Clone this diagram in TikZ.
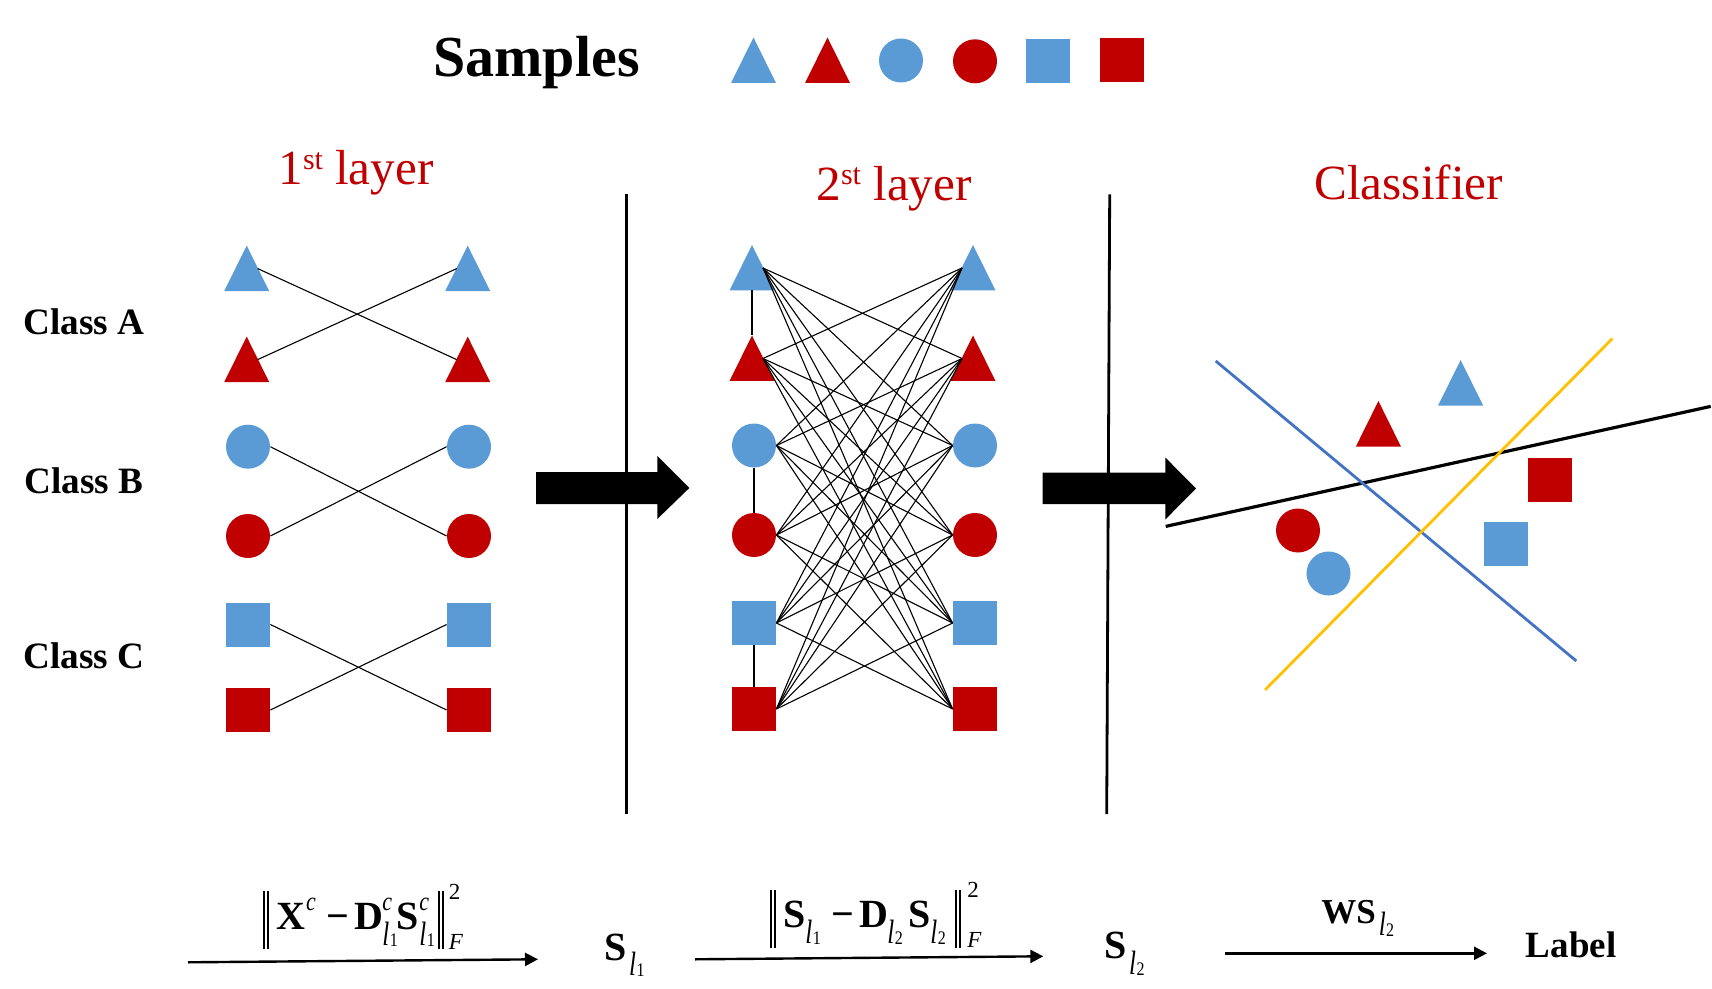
\documentclass[tikz,border=0pt]{standalone}
\usepackage{graphicx}
\usepackage{fontspec}
\setmainfont{Liberation Serif}
\usetikzlibrary{arrows.meta}
\definecolor{lblue}{HTML}{5B9BD5}
\definecolor{dred}{HTML}{C00000}
\definecolor{lineblue}{HTML}{4472C4}
\definecolor{lineyellow}{HTML}{FFC000}
\newdimen\px \px=0.5pt
\newcommand\at[2]{\rlap{\hspace{#1\px}#2}}
\newcommand\lsub[1]{\raisebox{-7.9pt}{\fontsize{12.5}{12.5}\selectfont\normalfont\scalebox{1}[1.35]{\itshape l}\hspace{0.2pt}\raisebox{-0.5pt}{\fontsize{8}{8}\selectfont\scalebox{1}[1.2]{#1}}}}
\newcommand\csup{\raisebox{9.3pt}{\fontsize{11}{11}\selectfont\normalfont\itshape\scalebox{1}[1.2]{c}}}
\newcommand\nbars[1]{\raisebox{-#1}{\rule{0.8pt}{29.3pt}\hspace{1pt}\rule{0.8pt}{29.3pt}}}
\newcommand\normtwo{\raisebox{14.7pt}{\fontsize{11.5}{11.5}\selectfont\normalfont 2}}
\newcommand\normF{\raisebox{-10pt}{\fontsize{11.5}{11.5}\selectfont\normalfont\itshape F}}
\newcommand\ordst[1]{\raisebox{#1}{\fontsize{15}{15}\selectfont st}}
\newcommand\tri[4]{% name, apex x, apex y, colour
  \fill[#4] (#2,#3) -- (#2+22.5,#3+45.5) -- (#2-22.5,#3+45.5) -- cycle;
  \coordinate (#1-e) at (#2+11,#3+23);
  \coordinate (#1-w) at (#2-11,#3+23);
  \coordinate (#1-a) at (#2,#3);
  \coordinate (#1-b) at (#2,#3+45.5);
}
\tikzset{
  x=0.5pt,y=-0.5pt,
  disc/.style={circle,fill=#1,inner sep=0pt,minimum size=22pt,draw=none},
  sq/.style={rectangle,fill=#1,inner sep=0pt,minimum size=22pt,draw=none},
  thinlink/.style={line width=0.55pt,black},
  vlink/.style={line width=0.75pt,black},
  flow/.style={line width=1.2pt,black,-{Triangle[length=6.5pt,width=6.5pt]}},
  sep/.style={line width=1.4pt},
  head/.style={anchor=base west,inner sep=0pt,text=dred,font=\fontsize{24.6}{30}\selectfont},
  cls/.style={anchor=base west,inner sep=0pt,font=\fontsize{18.6}{24}\selectfont\bfseries},
  fml/.style={anchor=base west,inner sep=0pt,font=\fontsize{20}{24}\selectfont\bfseries},
  plainbold/.style={anchor=base west,inner sep=0pt,font=\fontsize{18.5}{22}\selectfont\bfseries},
}
\begin{document}
\begin{tikzpicture}
\useasboundingbox (0,0) rectangle (1712,989);
% title and legend
\node[anchor=base west,inner sep=0pt,font=\fontsize{29}{34}\selectfont\bfseries] (samples) at (433,77) {Samples};
\tri{lgA}{753.5}{37.5}{lblue}
\tri{lgB}{827.5}{37.5}{dred}
\node[disc=lblue] (lgC) at (901,60.5) {};
\node[disc=dred] (lgD) at (975,61.3) {};
\node[sq=lblue] (lgE) at (1048,61) {};
\node[sq=dred] (lgF) at (1122,60.5) {};
% headings
\node[head] (h1) at (278,184.4) {1\ordst{7.5pt} layer};
\node[head] (h2) at (816,201) {2\ordst{8pt} layer};
\node[head] (h3) at (1314,200) {Classifier};
% classes
\node[cls] (ca) at (23,334.6) {Class A};
\node[cls] (cb) at (24,493.6) {Class B};
\node[cls] (cc) at (23,668) {Class C};
% layer 1 shapes
\tri{aL1}{246.7}{245.6}{lblue}
\tri{aL2}{246.7}{336.6}{dred}
\tri{aR1}{467.7}{245.6}{lblue}
\tri{aR2}{467.7}{336.6}{dred}
\node[disc=lblue] (aL3) at (248,446.7) {};
\node[disc=dred] (aL4) at (248,536) {};
\node[disc=lblue] (aR3) at (469,446.7) {};
\node[disc=dred] (aR4) at (469,536) {};
\node[sq=lblue] (aL5) at (248,624.5) {};
\node[sq=dred] (aL6) at (248,710) {};
\node[sq=lblue] (aR5) at (469,624.5) {};
\node[sq=dred] (aR6) at (469,710) {};
\draw[thinlink] (aL1-e) -- (aR2-w);
\draw[thinlink] (aL2-e) -- (aR1-w);
\draw[thinlink] (aL3.east) -- (aR4.west);
\draw[thinlink] (aL4.east) -- (aR3.west);
\draw[thinlink] (aL5.east) -- (aR6.west);
\draw[thinlink] (aL6.east) -- (aR5.west);
% layer 2 shapes
\tri{bL1}{752}{245}{lblue}
\tri{bL2}{752}{335.5}{dred}
\tri{bR1}{973}{245}{lblue}
\tri{bR2}{973}{335.5}{dred}
\node[disc=lblue] (bL3) at (754,445.5) {};
\node[disc=dred] (bL4) at (754,535) {};
\node[disc=lblue] (bR3) at (975,445.5) {};
\node[disc=dred] (bR4) at (975,535) {};
\node[sq=lblue] (bL5) at (754,623) {};
\node[sq=dred] (bL6) at (754,709) {};
\node[sq=lblue] (bR5) at (975,623) {};
\node[sq=dred] (bR6) at (975,709) {};
\coordinate (bL1x) at (bL1-e); \coordinate (bL2x) at (bL2-e);
\coordinate (bL3x) at (bL3.east); \coordinate (bL4x) at (bL4.east);
\coordinate (bL5x) at (bL5.east); \coordinate (bL6x) at (bL6.east);
\coordinate (bR1x) at (bR1-w); \coordinate (bR2x) at (bR2-w);
\coordinate (bR3x) at (bR3.west); \coordinate (bR4x) at (bR4.west);
\coordinate (bR5x) at (bR5.west); \coordinate (bR6x) at (bR6.west);
\foreach \i in {1,...,6}{\foreach \j in {1,...,6}{%
  \ifnum\i=\j\else\draw[thinlink] (bL\i x) -- (bR\j x);\fi}}
\draw[vlink] (bL1-b) -- (bL2-a);
\draw[vlink] (bL3.south) -- (bL4.north);
\draw[vlink] (bL5.south) -- (bL6.north);
% dividers and block arrows
\coordinate (d1t) at (626.7,194.4); \coordinate (d1b) at (626.7,814);
\coordinate (d2t) at (1109.7,194.4); \coordinate (d2b) at (1106.7,814);
\draw[sep] (d1t) -- (d1b);
\draw[sep] (d2t) -- (d2b);
\fill[black] (536,472) -- (657.3,472) -- (657.3,456) -- (689.3,488) -- (657.3,519) -- (657.3,504) -- (536,504) -- cycle;
\fill[black] (1042.7,472.5) -- (1165.3,472.5) -- (1165.3,457.5) -- (1196,488.5) -- (1165.3,519.5) -- (1165.3,504) -- (1042.7,504) -- cycle;
% classifier scene
\coordinate (kA) at (1165.7,526.4); \coordinate (kB) at (1710.7,406.4);
\coordinate (bA) at (1215.7,361); \coordinate (bB) at (1576.3,661);
\coordinate (yA) at (1265,690); \coordinate (yB) at (1612.4,338.5);
\draw[line width=1.6pt,black] (kA) -- (kB);
\draw[line width=1.4pt,lineblue] (bA) -- (bB);
\draw[line width=1.4pt,lineyellow] (yA) -- (yB);
\tri{cA}{1460.6}{360}{lblue}
\tri{cB}{1378.4}{401}{dred}
\node[disc=dred] (cC) at (1298,530.5) {};
\node[disc=lblue] (cD) at (1328.5,573.5) {};
\node[sq=dred] (cE) at (1550,480) {};
\node[sq=lblue] (cF) at (1506,543.5) {};
% bottom row
\node[fml] (f1) at (263,929.3) {\makebox[202\px][l]{%
  \at{0}{\nbars{10pt}}\at{13}{X}\at{42.6}{\csup}\at{63}{−}\at{91}{D}%
  \at{119}{\csup}\at{119}{\lsub{1}}\at{133}{S}\at{156}{\csup}\at{156}{\lsub{1}}%
  \at{175}{\nbars{10pt}}\at{185.5}{\normtwo}\at{185.5}{\normF}}};
\node[fml] (s1) at (604.5,960) {S\hspace{1pt}\lsub{1}};
\node[fml] (f2) at (770,927.3) {\makebox[205\px][l]{%
  \at{0}{\nbars{10.4pt}}\at{12.6}{S}\at{35}{\lsub{1}}\at{61}{−}\at{89}{D}\at{117}{\lsub{2}}%
  \at{137.6}{S}\at{160}{\lsub{2}}\at{185}{\nbars{10.4pt}}\at{197}{\normtwo}\at{197}{\normF}}};
\node[fml] (s2) at (1104.5,958.3) {S\hspace{1pt}\lsub{2}};
\node[plainbold,font=\fontsize{17.5}{22}\selectfont\bfseries] (ws) at (1321,923.3) {WS\hspace{1.5pt}\raisebox{2pt}{\lsub{2}}};
\node[plainbold] (lab) at (1525.5,957) {Label};
\coordinate (a1s) at (188,962.3); \coordinate (a1e) at (538,959.3);
\coordinate (a2s) at (695,959.3); \coordinate (a2e) at (1043.3,956.3);
\coordinate (a3s) at (1224.5,953.3); \coordinate (a3e) at (1487,953.3);
\draw[flow] (a1s) -- (a1e);
\draw[flow] (a2s) -- (a2e);
\draw[flow] (a3s) -- (a3e);
\end{tikzpicture}
\end{document}
